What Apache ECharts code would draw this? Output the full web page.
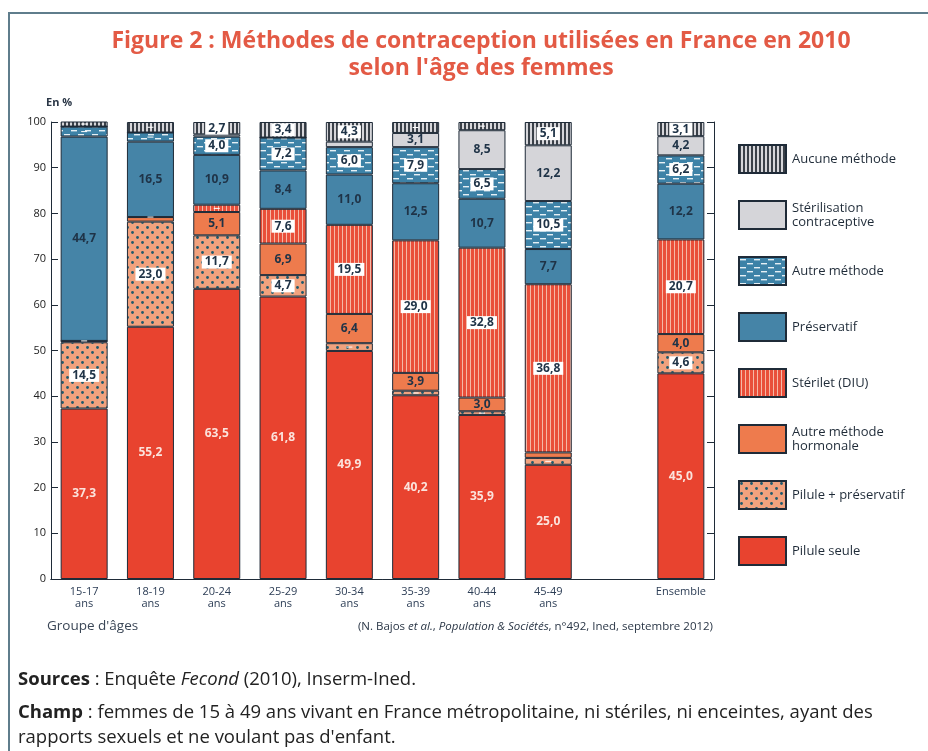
<!DOCTYPE html>
<html>
<head>
<meta charset="utf-8">
<script src="https://cdn.jsdelivr.net/npm/echarts@6/dist/echarts.min.js"></script>
<style>
  html, body { margin: 0; padding: 0; background: #fff; }
  #main { width: 928px; height: 751px; }
</style>
</head>
<body>
<div id="main"></div>
<script>
// age groups (index 8 is the empty slot before "Ensemble")
const categories = ['15-17\nans', '18-19\nans', '20-24\nans', '25-29\nans', '30-34\nans',
  '35-39\nans', '40-44\nans', '45-49\nans', '', 'Ensemble'];

const pilule         = [37.3, 55.2, 63.5, 61.8, 49.9, 40.2, 35.9, 25.0, null, 45.0];
const pilulePreserv  = [14.5, 23.0, 11.7, 4.7, 1.7, 1.0, 0.8, 1.5, null, 4.6];
const autreHormonale = [0.3, 1.0, 5.1, 6.9, 6.4, 3.9, 3.0, 1.2, null, 4.0];
const sterilet       = [0, 0, 1.6, 7.6, 19.5, 29.0, 32.8, 36.8, null, 20.7];
const preservatif    = [44.7, 16.5, 10.9, 8.4, 11.0, 12.5, 10.7, 7.7, null, 12.2];
const autreMethode   = [2.2, 2.0, 4.0, 7.2, 6.0, 7.9, 6.5, 10.5, null, 6.2];
const sterilisation  = [0, 0, 0.5, 0, 1.2, 3.1, 8.5, 12.2, null, 4.2];
const aucune         = [1.3, 2.3, 2.7, 3.4, 4.3, 2.4, 1.8, 5.1, null, 3.1];

const yTicks = [0, 10, 20, 30, 40, 50, 60, 70, 80, 90, 100];

function pattern(w, h, bg, draw) {
  const c = document.createElement('canvas');
  c.width = w; c.height = h;
  const ctx = c.getContext('2d');
  ctx.fillStyle = bg;
  ctx.fillRect(0, 0, w, h);
  draw(ctx);
  return {image: c, repeat: 'repeat'};
}

const fillStripes = pattern(4, 4, '#e94f3a', ctx => {
  ctx.fillStyle = '#f5b8a6';
  ctx.fillRect(2, 0, 1, 4);
});
const fillAucune = pattern(4, 4, '#d6d6da', ctx => {
  ctx.fillStyle = '#3a4048';
  ctx.fillRect(0, 0, 2, 4);
});
const fillDashes = pattern(14, 8, '#3d82a7', ctx => {
  ctx.fillStyle = '#e6f0f5';
  ctx.fillRect(1, 2, 6, 1.4);
  ctx.fillRect(8, 6, 6, 1.4);
});
const fillDots = pattern(10, 10, '#f1a27e', ctx => {
  ctx.fillStyle = '#1e5a6e';
  ctx.beginPath(); ctx.arc(2.5, 2.5, 1.4, 0, Math.PI * 2); ctx.fill();
  ctx.beginPath(); ctx.arc(7.5, 7.5, 1.4, 0, Math.PI * 2); ctx.fill();
});

const fmt = p => (p.value != null && p.value >= 2.5) ? p.value.toFixed(1).replace('.', ',') : '';
const boxLabel = {show: true, formatter: fmt, color: '#1f3347', fontSize: 12, fontWeight: 'bold',
  fontFamily: 'Open Sans', backgroundColor: '#fff', padding: [1, 3, 0, 3]};
const plainLabel = {show: true, formatter: fmt, color: '#1f3347', fontSize: 12, fontWeight: 'bold',
  fontFamily: 'Open Sans'};

function serie(name, data, color, label) {
  return {
    name, type: 'bar', stack: 'total', data, barWidth: 47,
    itemStyle: {color, borderColor: '#1f2b38', borderWidth: 1},
    label
  };
}

const series = [
  serie('Pilule seule', pilule, '#e8432f', Object.assign({}, plainLabel, {color: '#fbe3dc'})),
  serie('Pilule + préservatif', pilulePreserv, fillDots, boxLabel),
  serie('Autre méthode\nhormonale', autreHormonale, '#ee7b4d', plainLabel),
  serie('Stérilet (DIU)', sterilet, fillStripes, boxLabel),
  serie('Préservatif', preservatif, '#4584a7', plainLabel),
  serie('Autre méthode', autreMethode, fillDashes, boxLabel),
  serie('Stérilisation\ncontraceptive', sterilisation, '#d5d5d9', plainLabel),
  serie('Aucune méthode', aucune, fillAucune, boxLabel)
];

const chart = echarts.init(document.getElementById('main'));
chart.setOption({
  animation: false,
  title: {
    text: 'Figure 2 : Méthodes de contraception utilisées en France en 2010\nselon l\'âge des femmes',
    left: 476, top: 23, textAlign: 'center',
    textStyle: {color: '#e35a45', fontSize: 23, fontWeight: 'bold', fontFamily: 'Open Sans', lineHeight: 27}
  },
  legend: {
    orient: 'vertical', left: 733, top: 139,
    itemWidth: 47, itemHeight: 28, itemGap: 26,
    icon: 'rect',
    data: series.map(s => s.name).reverse(),
    textStyle: {color: '#1f2b38', fontSize: 13, fontFamily: 'Open Sans', lineHeight: 14, padding: [0, 0, 0, 1]}
  },
  grid: {left: 51, right: 214, top: 122, bottom: 172},
  xAxis: [{
    type: 'category', data: categories, position: 'bottom',
    axisLine: {lineStyle: {color: '#1f2b38', width: 1}},
    axisTick: {inside: true, length: 6, lineStyle: {color: '#1f2b38'}},
    axisLabel: {color: '#2c3d55', fontSize: 11, fontFamily: 'Open Sans', lineHeight: 12, margin: 7}
  }, {
    type: 'category', data: categories, position: 'top',
    axisLine: {lineStyle: {color: '#1f2b38', width: 1}},
    axisTick: {inside: true, length: 6, lineStyle: {color: '#1f2b38'}},
    axisLabel: {show: false}
  }],
  yAxis: [{
    type: 'value', min: 0, max: 100, interval: 10, position: 'left',
    axisLine: {show: true, lineStyle: {color: '#1f2b38'}},
    axisTick: {show: true, inside: true, length: 7, lineStyle: {color: '#1f2b38'}},
    splitLine: {show: false},
    axisLabel: {color: '#222', fontSize: 11, fontFamily: 'Open Sans', margin: 5,
      formatter: v => yTicks.includes(v) ? String(v) : ''}
  }, {
    type: 'value', min: 0, max: 100, interval: 10, position: 'right',
    axisLine: {show: true, lineStyle: {color: '#1f2b38'}},
    axisTick: {show: true, inside: true, length: 7, lineStyle: {color: '#1f2b38'}},
    splitLine: {show: false},
    axisLabel: {show: false}
  }],
  series,
  graphic: [
    {type: 'polyline', silent: true, shape: {points: [[9, 751], [9, 13], [928, 13]]},
      style: {stroke: '#5f7d8c', lineWidth: 2, fill: null}},
    {type: 'text', left: 46, top: 97, style: {text: 'En %', font: 'bold 11px "Open Sans"', fill: '#2a3646'}},
    {type: 'text', left: 47, top: 619, style: {text: 'Groupe d\'âges', font: '13.5px "Open Sans"', fill: '#3a4656'}},
    {type: 'text', right: 215, top: 621, style: {
      text: '(N. Bajos {i|et al.}, {i|Population & Sociétés}, n°492, Ined, septembre 2012)',
      font: '11.5px "Open Sans"', fill: '#2a3646',
      rich: {i: {fontStyle: 'italic', fontSize: 11.5, fontFamily: 'Open Sans', fill: '#2a3646'}}}},
    {type: 'text', left: 18, top: 670, style: {
      text: '{b|Sources} : Enquête {i|Fecond} (2010), Inserm-Ined.',
      font: '18.5px "Open Sans"', fill: '#222',
      rich: {b: {fontWeight: 'bold', fontSize: 18.5, fontFamily: 'Open Sans', fill: '#222'},
        i: {fontStyle: 'italic', fontSize: 18.5, fontFamily: 'Open Sans', fill: '#222'}}}},
    {type: 'text', left: 18, top: 700, style: {
      text: '{b|Champ} : femmes de 15 à 49 ans vivant en France métropolitaine, ni stériles, ni enceintes, ayant des\nrapports sexuels et ne voulant pas d\'enfant.',
      font: '18.5px "Open Sans"', fill: '#222', lineHeight: 25,
      rich: {b: {fontWeight: 'bold', fontSize: 18.5, fontFamily: 'Open Sans', fill: '#222', lineHeight: 25}}}}
  ]
});
</script>
</body>
</html>
